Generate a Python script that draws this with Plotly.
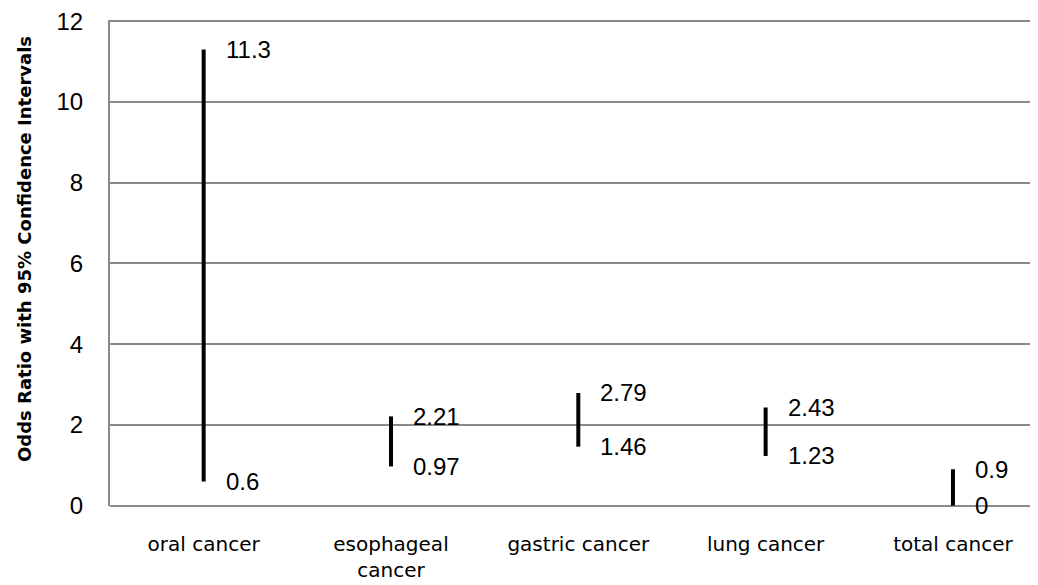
import plotly.graph_objects as go

categories = ["oral cancer", "esophageal<br>cancer", "gastric cancer", "lung cancer", "total cancer"]
upper = [11.3, 2.21, 2.79, 2.43, 0.9]
lower = [0.6, 0.97, 1.46, 1.23, 0]
upper_labels = ["11.3", "2.21", "2.79", "2.43", "0.9"]
lower_labels = ["0.6", "0.97", "1.46", "1.23", "0"]
y_ticks = [0, 2, 4, 6, 8, 10, 12]

xs, ys = [], []
for i, (lo, hi) in enumerate(zip(lower, upper)):
    xs += [i, i, None]
    ys += [lo, hi, None]

fig = go.Figure()
fig.add_trace(go.Scatter(x=xs, y=ys, mode="lines",
                         line=dict(color="black", width=4),
                         hoverinfo="skip", showlegend=False))

for i in range(len(categories)):
    for val, lab in ((upper[i], upper_labels[i]), (lower[i], lower_labels[i])):
        fig.add_annotation(x=i, y=val, text=lab, showarrow=False,
                           xanchor="left", yanchor="middle", xshift=20,
                           font=dict(family="Liberation Sans, Arial", size=24, color="black"))

# y-axis title as annotation for precise placement
fig.add_annotation(xref="paper", yref="paper", x=0, y=0.5, xshift=-86, yshift=14,
                   text="<b>Odds Ratio with 95% Confidence Intervals</b>", textangle=-90,
                   showarrow=False, xanchor="center", yanchor="middle",
                   font=dict(family="DejaVu Sans", size=18, color="black"))

fig.update_layout(
    width=1030, height=577,
    margin=dict(l=102, r=0, t=10, b=79),
    plot_bgcolor="white", paper_bgcolor="white",
    xaxis=dict(tickmode="array", tickvals=list(range(len(categories))), ticktext=categories,
               range=[-0.5, 4.454], showgrid=False, zeroline=False, showline=False,
               tickfont=dict(family="DejaVu Sans", size=20, color="black"),
               ticks="", ticklabelstandoff=24),
    yaxis=dict(range=[-0.01, 12.03], tickvals=y_ticks, showgrid=True, gridcolor="#8a8a8a", gridwidth=2,
               zeroline=True, zerolinecolor="#8a8a8a", zerolinewidth=2,
               showline=True, linecolor="#8a8a8a", linewidth=2,
               tickfont=dict(family="Liberation Sans, Arial", size=24, color="black"),
               ticklabelstandoff=20, ticklabeloverflow="allow"),
)

fig.write_html("out.html")
